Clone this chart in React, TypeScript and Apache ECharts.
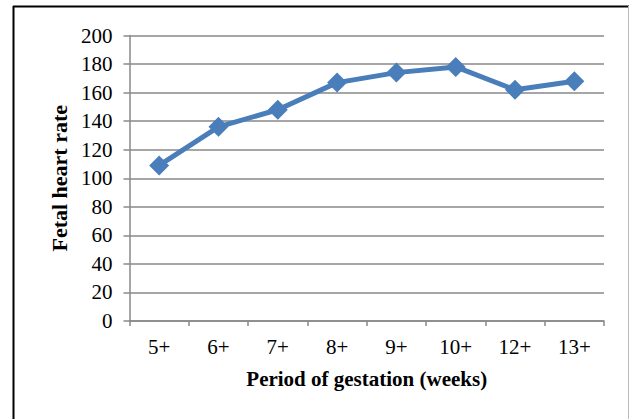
import React, { useEffect, useRef } from "react";
import * as echarts from "echarts";

const categories = ["5+", "6+", "7+", "8+", "9+", "10+", "12+", "13+"];
const heartRate = [109, 136, 148, 167, 174, 178, 162, 168];
const yTicks = { min: 0, max: 200, interval: 20 };

export default function App() {
  const ref = useRef<HTMLDivElement>(null);
  useEffect(() => {
    if (!ref.current) return;
    const chart = echarts.init(ref.current, null, { renderer: "svg" });
    const font = "'Liberation Serif', 'Times New Roman', serif";
    chart.setOption({
      animation: false,
      backgroundColor: "#ffffff",
      textStyle: { fontFamily: font },
      grid: { left: 129.5, right: 29, top: 35.5, bottom: 98, containLabel: false },
      graphic: [
        { type: "line", shape: { x1: 13, y1: 6.5, x2: 629, y2: 6.5 }, style: { stroke: "#000", lineWidth: 2 } },
        { type: "line", shape: { x1: 13.5, y1: 6, x2: 13.5, y2: 419 }, style: { stroke: "#000", lineWidth: 2 } },
        { type: "line", shape: { x1: 628.5, y1: 6, x2: 628.5, y2: 419 }, style: { stroke: "#bbb", lineWidth: 1 } },
      ],
      xAxis: {
        type: "category",
        data: categories,
        boundaryGap: true,
        name: "Period of gestation (weeks)",
        nameLocation: "middle",
        nameGap: 47,
        nameTextStyle: { fontFamily: font, fontSize: 21, fontWeight: "bold", color: "#000" },
        axisLine: { show: true, lineStyle: { color: "#888", width: 1.5 } },
        axisTick: { show: true, interval: 0, length: 5, lineStyle: { color: "#888", width: 1.5 } },
        axisLabel: { fontFamily: font, fontSize: 21, color: "#000", margin: 15, interval: 0 },
        splitLine: { show: false },
      },
      yAxis: {
        type: "value",
        min: yTicks.min,
        max: yTicks.max,
        interval: yTicks.interval,
        name: "Fetal heart rate",
        nameLocation: "middle",
        nameGap: 58,
        nameTextStyle: { fontFamily: font, fontSize: 22, fontWeight: "bold", color: "#000" },
        axisLine: { show: true, lineStyle: { color: "#888", width: 1.5 } },
        axisTick: { show: true, length: 6, lineStyle: { color: "#888", width: 1.5 } },
        axisLabel: { fontFamily: font, fontSize: 21, color: "#000", margin: 17 },
        splitLine: { show: true, lineStyle: { color: "#888", width: 1.5 } },
      },
      series: [
        {
          type: "line",
          data: heartRate,
          symbol: "diamond",
          symbolSize: 20,
          lineStyle: { color: "#4a7ebb", width: 5 },
          itemStyle: { color: "#4a7ebb" },
        },
      ],
    });
    return () => chart.dispose();
  }, []);
  return <div ref={ref} style={{ position: "absolute", left: 0, top: 0, width: 633, height: 419 }} />;
}
